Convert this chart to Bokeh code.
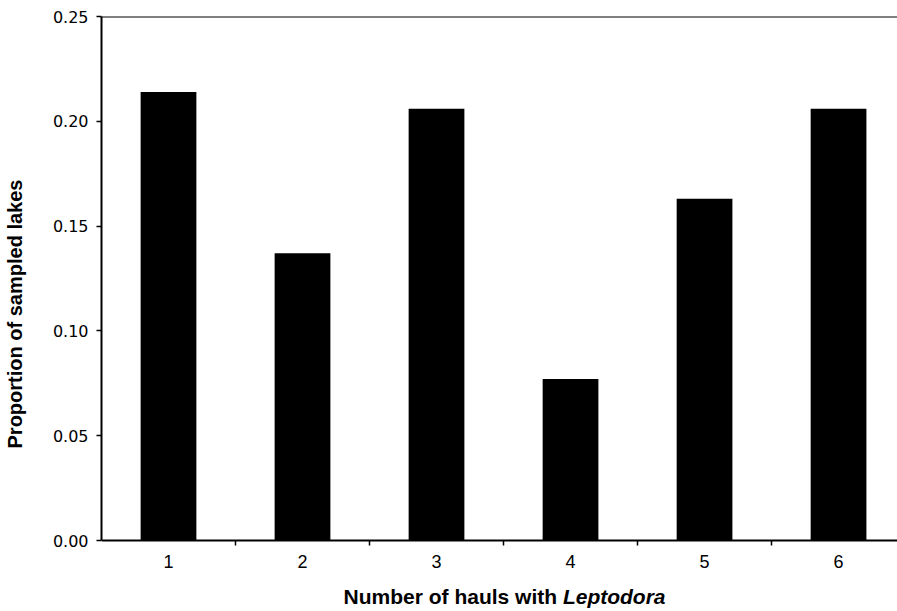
from bokeh.plotting import figure
from bokeh.models import Range1d, FixedTicker, Span, Label
from bokeh.embed import file_html
from bokeh.resources import INLINE

categories = [1, 2, 3, 4, 5, 6]
proportions = [0.214, 0.137, 0.206, 0.077, 0.163, 0.206]
y_ticks = [0.0, 0.05, 0.10, 0.15, 0.20, 0.25]
y_tick_labels = ["0.00", "0.05", "0.10", "0.15", "0.20", "0.25"]
x_title_plain = "Number of hauls with "
x_title_italic = "Leptodora"
y_title = "Proportion of sampled lakes"

# frame spans canvas y 16..611; data 0 at y=540, 0.25 at y=16
y_bottom = -71 * 0.25 / 524
p = figure(width=897, height=611, output_backend="svg", toolbar_location=None,
           x_range=Range1d(0.5, 6.44), y_range=Range1d(y_bottom, 0.25),
           min_border_left=101, min_border_right=0, min_border_top=16, min_border_bottom=0)
p.outline_line_color = None
p.grid.grid_line_color = None
p.background_fill_color = "white"

p.vbar(x=categories, top=proportions, width=0.416, fill_color="black", line_color=None)

# top border line
p.add_layout(Span(location=0.25, dimension="width", line_color="black", line_width=2))

# x axis, drawn at y = 0
xa = p.xaxis[0]
xa.fixed_location = 0
xa.ticker = FixedTicker(ticks=categories, minor_ticks=[c + 0.5 for c in categories[:-1]])
xa.major_tick_line_color = None
xa.major_tick_out = 0
xa.major_tick_in = 0
xa.minor_tick_line_color = "black"
xa.minor_tick_line_width = 1.5
xa.minor_tick_out = 5
xa.minor_tick_in = 0
xa.axis_line_width = 2
xa.axis_line_color = "black"
xa.major_label_text_font = "Liberation Sans"
xa.major_label_text_font_size = "18px"
xa.major_label_text_color = "black"
xa.major_label_standoff = 9

# y axis
ya = p.yaxis[0]
ya.bounds = (0, 0.25)
ya.ticker = FixedTicker(ticks=y_ticks, minor_ticks=[])
ya.major_label_overrides = {t: l for t, l in zip(y_ticks, y_tick_labels)}
ya.major_tick_line_color = "black"
ya.major_tick_line_width = 1.5
ya.major_tick_out = 5
ya.major_tick_in = 0
ya.minor_tick_line_color = None
ya.axis_line_width = 2
ya.axis_line_color = "black"
ya.major_label_text_font = "DejaVu Sans"
ya.major_label_text_font_size = "16px"
ya.major_label_text_color = "black"
ya.major_label_standoff = 8
ya.axis_label = y_title
ya.axis_label_text_font = "Liberation Sans"
ya.axis_label_text_font_style = "bold"
ya.axis_label_text_font_size = "20px"
ya.axis_label_text_color = "black"
ya.axis_label_standoff = 24

# x axis title with italic part
split_x = 3.943
title_y = -0.0268
p.add_layout(Label(x=split_x, y=title_y, text=x_title_plain, text_align="right",
                   text_baseline="alphabetic", text_font="Liberation Sans",
                   text_font_style="bold", text_font_size="21px", text_color="black"))
p.add_layout(Label(x=split_x, y=title_y, text=x_title_italic, text_align="left",
                   text_baseline="alphabetic", text_font="Liberation Sans",
                   text_font_style="bold italic", text_font_size="21px", text_color="black"))

open("out.html", "w").write(file_html(p, INLINE))
